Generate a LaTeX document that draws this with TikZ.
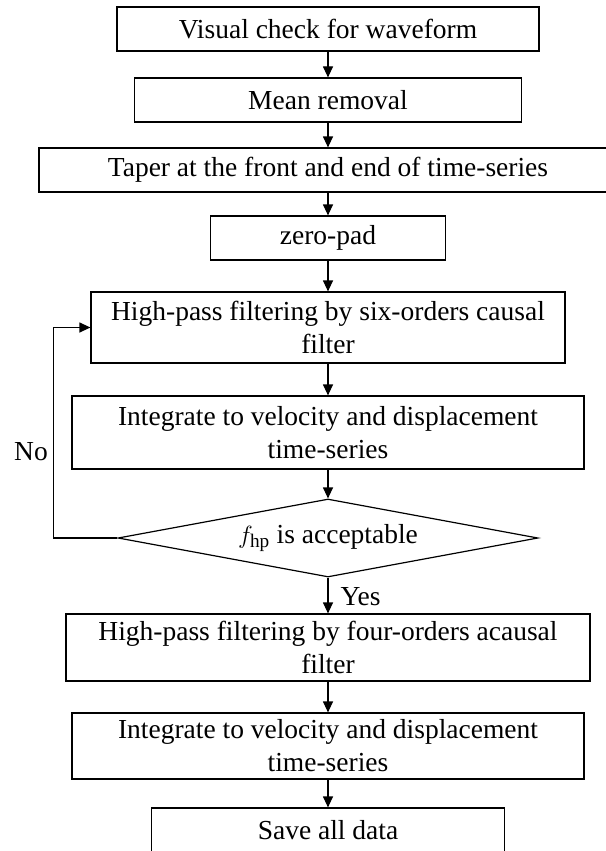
\documentclass[tikz,border=0pt]{standalone}
\usepackage{fontspec}
\setmainfont{Liberation Serif}
\usetikzlibrary{arrows.meta,shapes.geometric}
\tikzset{
  box/.style={draw=black, line width=1.2pt, inner sep=0pt, align=center,
    font=\fontsize{27.5}{33}\selectfont},
  check/.style={box, diamond, shape aspect=5.4},
  lbl/.style={inner sep=0pt, font=\fontsize{27.5}{33}\selectfont}
}
\begin{document}
\begin{tikzpicture}[x=1pt,y=-1pt,line width=1.2pt,>={Triangle[length=11pt,width=10pt]}]
  \useasboundingbox (0,0) rectangle (605,851);
  \draw
    (328,29) node[box,minimum width=422,minimum height=44] (visual) {Visual check for waveform}
    (328,100) node[box,minimum width=387,minimum height=44] (mean) {Mean removal}
    (328,170) node[box,minimum width=578,minimum height=44] (taper) {Taper at the front and end of time-series}
    (328,238) node[box,minimum width=235,minimum height=44] (zero) {zero-pad}
    (328,327.5) node[box,minimum width=474,minimum height=71] (hpsix) {High-pass filtering by six-orders causal\\filter}
    (328,432.5) node[box,minimum width=512,minimum height=73] (intone) {Integrate to velocity and displacement\\time-series}
    (328,538) node[check,minimum width=420,minimum height=78] (fhp) {$f_{\mathrm{hp}}$ is acceptable}
    (328,647.5) node[box,minimum width=524,minimum height=67] (hpfour) {High-pass filtering by four-orders acausal\\filter}
    (328,746) node[box,minimum width=512,minimum height=66] (inttwo) {Integrate to velocity and displacement\\time-series}
    (328,830) node[box,minimum width=353,minimum height=44] (save) {Save all data};
  \node[lbl] (no) at (31,452) {No};
  \node[lbl,anchor=west] (yes) at (340,597) {Yes};
  \begin{scope}[->]
    \draw (visual) to (mean);
    \draw (mean) to (taper);
    \draw (taper) to (zero);
    \draw (zero) to (hpsix);
    \draw (hpsix) to (intone);
    \draw (intone) to (fhp);
    \draw (fhp) to (hpfour);
    \draw (hpfour) to (inttwo);
    \draw (inttwo) to (save);
    \draw (fhp.west) -- ++(-64,0) |- (hpsix.west);
  \end{scope}
\end{tikzpicture}
\end{document}
